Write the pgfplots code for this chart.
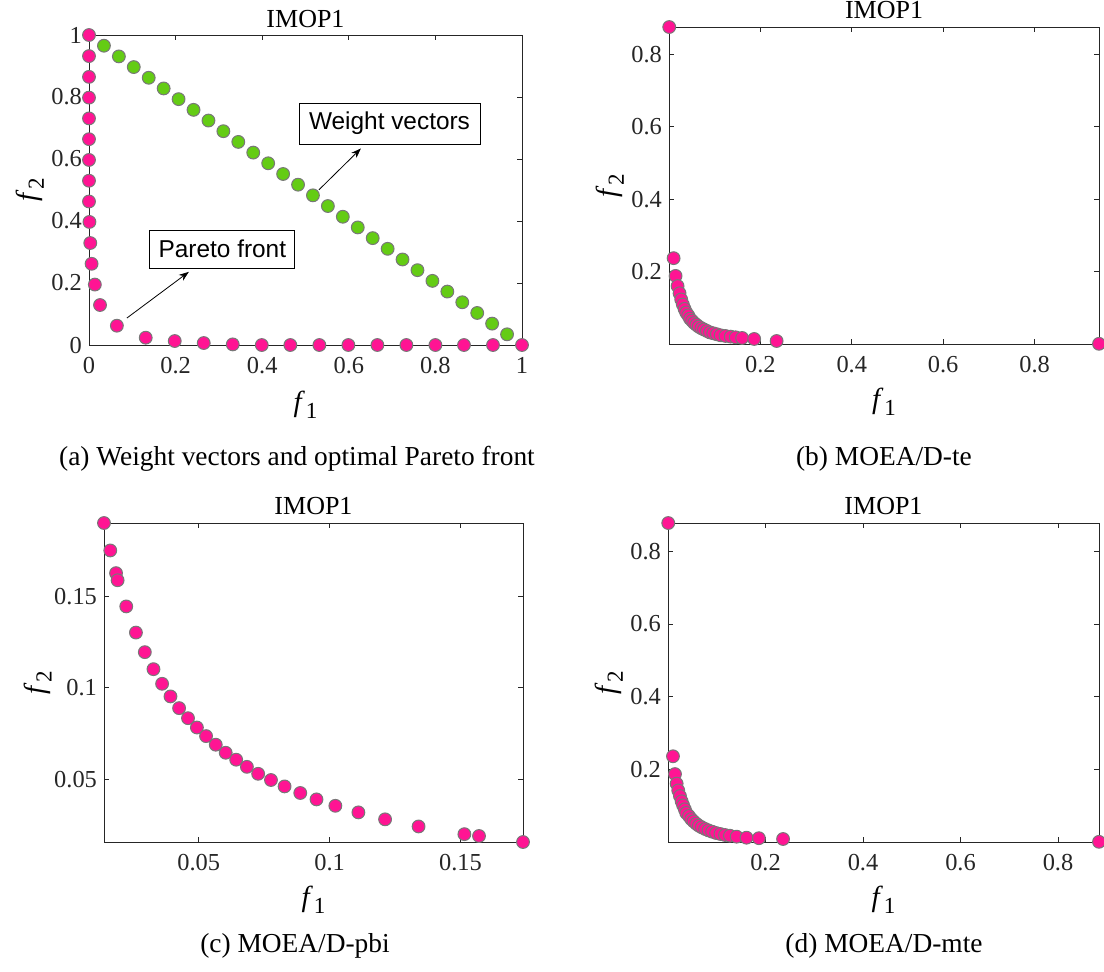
\documentclass[border=0pt]{standalone}
\usepackage{pgfplots}
\pgfplotsset{compat=1.18}
\usepackage{fontspec}
\setmainfont{Liberation Serif}
\setsansfont{Liberation Sans}
\usetikzlibrary{arrows.meta}
\definecolor{pk}{RGB}{255,20,147}
\definecolor{gr}{RGB}{100,204,20}
\definecolor{axgray}{RGB}{38,38,38}
\definecolor{edg}{RGB}{120,120,120}
\newcommand{\fsub}[1]{\textit{f}\kern0.5pt\raisebox{-0.55ex}{\fontsize{11.5}{12}\selectfont #1}}
\pgfplotsset{
  myax/.style={
    scale only axis, clip=false,
    axis line style={draw=axgray, line width=0.5pt},
    every tick/.style={draw=axgray, line width=0.5pt},
    major tick length=2.6pt,
    tick align=inside, tick pos=both,
    ticklabel style={font=\fontsize{12.2}{14}\selectfont, text=axgray},
    xticklabel style={yshift=-2.5pt},
    title={IMOP1},
    title style={font=\fontsize{13}{15}\selectfont, at={(axis description cs:0.5,1)}, anchor=base, yshift=-1.5pt, inner sep=0pt},
    xlabel={\fsub{1}},
    ylabel={\fsub{2}},
    xlabel style={font=\fontsize{14.5}{17}\selectfont, at={(axis description cs:0.5,0)}, anchor=center, yshift=-30pt},
    ylabel style={font=\fontsize{14.5}{17}\selectfont, anchor=center},
  },
  pkm/.style={only marks, mark=*, mark size=3.2pt, mark options={fill=pk, draw=edg, line width=0.5pt}},
  grm/.style={only marks, mark=*, mark size=3.2pt, mark options={fill=gr, draw=edg, line width=0.5pt}},
}
\begin{document}
\begin{tikzpicture}
\useasboundingbox (0pt,0pt) rectangle (552pt,-485.5pt);

% (a)
\begin{axis}[myax, at={(44.5pt,-172.5pt)}, anchor=south west,
  width=216.5pt, height=155pt,
  xmin=0, xmax=1, ymin=0, ymax=1,
  xtick={0,0.2,0.4,0.6,0.8,1}, xticklabels={0,0.2,0.4,0.6,0.8,1},
  ytick={0,0.2,0.4,0.6,0.8,1}, yticklabels={0,0.2,0.4,0.6,0.8,1},
  title style={yshift=-0.5pt},
  ylabel style={at={(axis description cs:-0.136,0.5)}}]
\addplot[grm] coordinates {
(0.0345,0.9655)(0.0690,0.9310)(0.1034,0.8966)(0.1379,0.8621)(0.1724,0.8276)
(0.2069,0.7931)(0.2414,0.7586)(0.2759,0.7241)(0.3103,0.6897)(0.3448,0.6552)
(0.3793,0.6207)(0.4138,0.5862)(0.4483,0.5517)(0.4828,0.5172)(0.5172,0.4828)
(0.5517,0.4483)(0.5862,0.4138)(0.6207,0.3793)(0.6552,0.3448)(0.6897,0.3103)
(0.7241,0.2759)(0.7586,0.2414)(0.7931,0.2069)(0.8276,0.1724)(0.8621,0.1379)
(0.8966,0.1034)(0.9310,0.0690)(0.9655,0.0345)};
\addplot[pkm] coordinates {
(0,1.0)(0,0.932)(0,0.865)(0,0.798)(0,0.731)(0,0.664)(0,0.597)(0,0.530)
(0,0.463)(0.001,0.397)(0.003,0.329)(0.006,0.262)(0.0135,0.195)(0.0255,0.129)
(0.0644,0.0623)(0.131,0.0236)(0.198,0.0129)(0.265,0.0064)(0.332,0.002)
(0.399,0)(0.465,0)(0.532,0)(0.599,0)(0.666,0)(0.733,0)(0.800,0)(0.866,0)(0.933,0)(1.0,0)};
\node[draw=black, fill=white, line width=0.5pt, minimum width=90.5pt, minimum height=20.5pt, inner sep=0pt,
  font=\sffamily\fontsize{12.2}{14}\selectfont] at (axis cs:0.694,0.7145) {Weight vectors};
\node[draw=black, fill=white, line width=0.5pt, minimum width=72.5pt, minimum height=19pt, inner sep=0pt,
  font=\sffamily\fontsize{12.2}{14}\selectfont] at (axis cs:0.308,0.3097) {Pareto front};
\draw[line width=0.4pt, -{Stealth[length=5pt,width=3.6pt]}] (axis cs:0.531,0.5006) -- (axis cs:0.628,0.634);
\draw[line width=0.4pt, -{Stealth[length=5pt,width=3.6pt]}] (axis cs:0.0875,0.087) -- (axis cs:0.2307,0.236);
\end{axis}

% (b)
\begin{axis}[myax, at={(334.5pt,-172pt)}, anchor=south west,
  width=215pt, height=158.5pt,
  xmin=0, xmax=0.941, ymin=0, ymax=0.875,
  xtick={0.2,0.4,0.6,0.8}, xticklabels={0.2,0.4,0.6,0.8},
  ytick={0.2,0.4,0.6,0.8}, yticklabels={0.2,0.4,0.6,0.8},
  xlabel style={yshift=1pt},
  ylabel style={at={(axis description cs:-0.137,0.5)}}]
\addplot[pkm] coordinates {
(0.0005,0.875)
(0.0101,0.237)(0.0144,0.188)(0.0188,0.160)(0.0231,0.140)(0.0267,0.123)
(0.0303,0.109)(0.0340,0.097)(0.0376,0.087)(0.0420,0.079)(0.0460,0.070)
(0.0506,0.064)(0.0550,0.058)(0.0600,0.053)(0.0650,0.048)(0.0710,0.0435)
(0.0766,0.040)(0.0830,0.036)(0.0896,0.032)(0.0968,0.0296)(0.1047,0.0269)
(0.1130,0.024)(0.1235,0.0222)(0.1350,0.0204)(0.1460,0.0185)(0.1600,0.0167)
(0.1864,0.0139)(0.2355,0.0083)
(0.941,0.0005)};
\end{axis}

% (c)
\begin{axis}[myax, at={(52pt,-421pt)}, anchor=south west,
  width=209.5pt, height=159.5pt,
  xmin=0.0138, xmax=0.1739, ymin=0.0156, ymax=0.190,
  xtick={0.05,0.1,0.15}, xticklabels={0.05,0.1,0.15},
  ytick={0.05,0.1,0.15}, yticklabels={0.05,0.1,0.15},
  xlabel style={yshift=1pt},
  ylabel style={at={(axis description cs:-0.158,0.5)}}]
\addplot[pkm] coordinates {
(0.0138,0.190)(0.0162,0.175)(0.0184,0.1626)(0.0190,0.1587)(0.0223,0.1444)
(0.0260,0.1301)(0.0294,0.1194)(0.0327,0.1101)(0.0360,0.1021)(0.0392,0.0952)
(0.0425,0.0888)(0.0459,0.0833)(0.0493,0.0782)(0.0528,0.0735)(0.0565,0.0688)
(0.0603,0.0644)(0.0643,0.0606)(0.0684,0.0567)(0.0727,0.0529)(0.0776,0.0495)
(0.0828,0.0460)(0.0888,0.0424)(0.0950,0.0389)(0.1022,0.0354)(0.1110,0.0318)
(0.1212,0.0280)(0.1340,0.0241)(0.1515,0.0199)(0.1571,0.0189)(0.1739,0.0156)};
\end{axis}

% (d)
\begin{axis}[myax, at={(334pt,-421pt)}, anchor=south west,
  width=215.5pt, height=159.5pt,
  xmin=0, xmax=0.884, ymin=0, ymax=0.878,
  xtick={0.2,0.4,0.6,0.8}, xticklabels={0.2,0.4,0.6,0.8},
  ytick={0.2,0.4,0.6,0.8}, yticklabels={0.2,0.4,0.6,0.8},
  xlabel style={yshift=1pt},
  ylabel style={at={(axis description cs:-0.137,0.5)}}]
\addplot[pkm] coordinates {
(0.0005,0.878)
(0.0102,0.236)(0.0143,0.187)(0.0177,0.1606)(0.0210,0.142)(0.0245,0.1266)
(0.0280,0.112)(0.0310,0.101)(0.0345,0.090)(0.0374,0.080)(0.0429,0.0716)
(0.0476,0.0633)(0.0524,0.0569)(0.0578,0.0505)(0.0633,0.045)(0.0694,0.0404)
(0.0762,0.0358)(0.0830,0.032)(0.0905,0.0284)(0.0986,0.0248)(0.1075,0.022)
(0.1170,0.0193)(0.1270,0.0174)(0.1408,0.0147)(0.1610,0.0119)(0.1864,0.0105)
(0.2360,0.0083)
(0.884,0.0005)};
\end{axis}

\node[font=\fontsize{13.7}{16}\selectfont] at (148.5pt,-229.5pt) {(a) Weight vectors and optimal Pareto front};
\node[font=\fontsize{13.7}{16}\selectfont] at (442pt,-229.5pt) {(b) MOEA/D-te};
\node[font=\fontsize{13.7}{16}\selectfont] at (147.5pt,-473pt) {(c) MOEA/D-pbi};
\node[font=\fontsize{13.7}{16}\selectfont] at (442pt,-473pt) {(d) MOEA/D-mte};
\end{tikzpicture}
\end{document}
